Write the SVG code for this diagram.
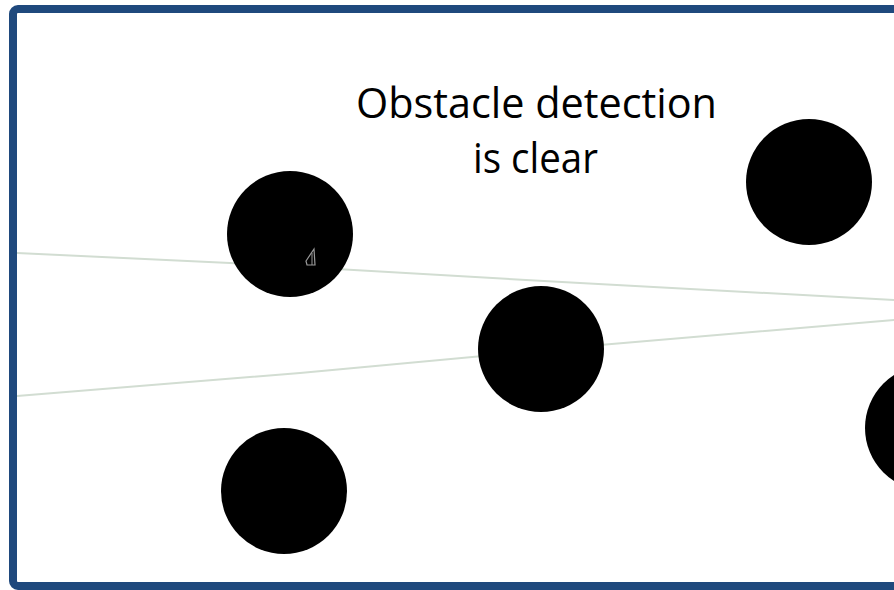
<svg xmlns="http://www.w3.org/2000/svg" width="894" height="590" viewBox="0 0 894 590">
  <style>
    .obstacle { fill: #000000; }
    .beam { fill: none; stroke: #d2ddd2; stroke-width: 2; stroke-linecap: round; stroke-linejoin: round; }
    .label { font-family: "Open Sans", "Liberation Sans", sans-serif; font-size: 42px; fill: #000000; text-anchor: middle; }
  </style>
  <rect x="0" y="0" width="894" height="590" fill="#ffffff"/>
  <g id="beams">
    <polyline class="beam" points="17,253 230,263 580,283 894,300"/>
    <polyline class="beam" points="17,396 300,373 600,345 894,320"/>
  </g>
  <g id="obstacles">
    <circle id="obstacle1" class="obstacle" cx="290" cy="234" r="63"/>
    <circle id="obstacle2" class="obstacle" cx="809" cy="182" r="63"/>
    <circle id="obstacle3" class="obstacle" cx="541" cy="349" r="63"/>
    <circle id="obstacle4" class="obstacle" cx="284" cy="491" r="63"/>
    <circle id="obstacle5" class="obstacle" cx="928" cy="428" r="63"/>
  </g>
  <g id="robot">
    <polygon points="314,249 306,261 307,265 315,265" fill="none" stroke="#9a9a9a" stroke-width="1.2"/>
    <line x1="312" y1="253" x2="312" y2="265" stroke="#9a9a9a" stroke-width="1"/>
  </g>
  <g id="caption">
    <text class="label" x="536.5" y="118" textLength="361" lengthAdjust="spacingAndGlyphs">Obstacle detection</text>
    <text class="label" x="535.5" y="173" textLength="125" lengthAdjust="spacingAndGlyphs">is clear</text>
  </g>
  <rect id="frame" x="13" y="9" width="900" height="577" rx="5" fill="none" stroke="#1f497d" stroke-width="8"/>
</svg>
